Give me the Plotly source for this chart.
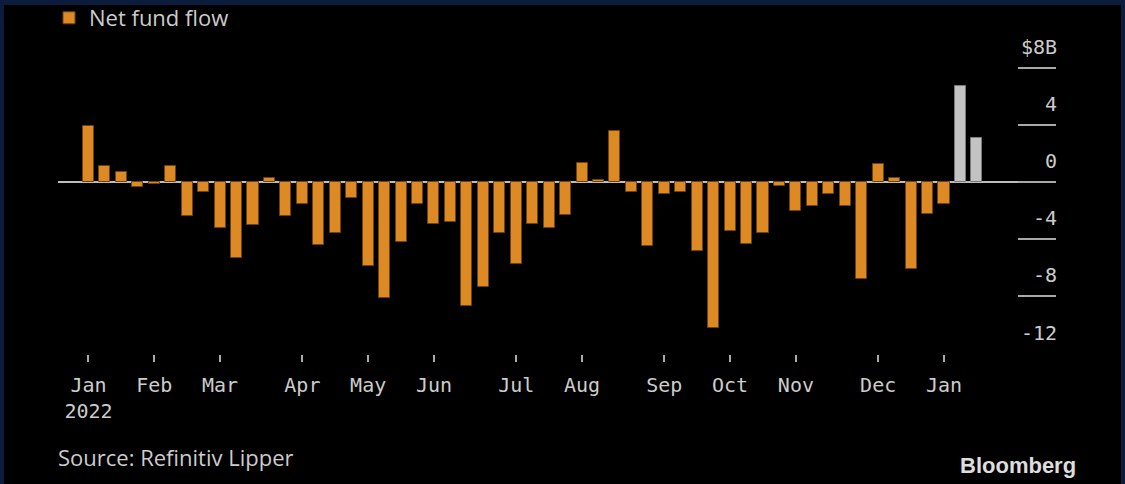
import plotly.graph_objects as go
import pandas as pd

# ---- data (weekly net fund flow, $ billions) ----
week_ending = [
    "2022-01-05", "2022-01-12", "2022-01-19", "2022-01-26",
    "2022-02-02", "2022-02-09", "2022-02-16", "2022-02-23",
    "2022-03-02", "2022-03-09", "2022-03-16", "2022-03-23", "2022-03-30",
    "2022-04-06", "2022-04-13", "2022-04-20", "2022-04-27",
    "2022-05-04", "2022-05-11", "2022-05-18", "2022-05-25",
    "2022-06-01", "2022-06-08", "2022-06-15", "2022-06-22", "2022-06-29",
    "2022-07-06", "2022-07-13", "2022-07-20", "2022-07-27",
    "2022-08-03", "2022-08-10", "2022-08-17", "2022-08-24", "2022-08-31",
    "2022-09-07", "2022-09-14", "2022-09-21", "2022-09-28",
    "2022-10-05", "2022-10-12", "2022-10-19", "2022-10-26",
    "2022-11-02", "2022-11-09", "2022-11-16", "2022-11-23", "2022-11-30",
    "2022-12-07", "2022-12-14", "2022-12-21", "2022-12-28",
    "2023-01-04", "2023-01-11", "2023-01-18",
]
net_flow = [
    3.9, 1.1, 0.7, -0.35,
    -0.1, 1.1, -2.4, -0.7,
    -3.2, -5.3, -3.0, 0.3, -2.4,
    -1.55, -4.4, -3.55, -1.1,
    -5.9, -8.1, -4.2, -1.55,
    -2.9, -2.8, -8.65, -7.35, -3.55,
    -5.7, -2.9, -3.2, -2.3,
    1.35, 0.15, 3.55, -0.7, -4.5,
    -0.8, -0.7, -4.85, -10.2,
    -3.4, -4.3, -3.55, -0.25,
    -2.0, -1.65, -0.8, -1.65, -6.8,
    1.25, 0.3, -6.05, -2.25,
    -1.55, 6.7, 3.1,
]
latest_weeks = ["2023-01-11", "2023-01-18"]   # shown in grey

month_ticks = [
    "2022-01-05", "2022-02-02", "2022-03-02", "2022-04-06", "2022-05-04",
    "2022-06-01", "2022-07-06", "2022-08-03", "2022-09-07", "2022-10-05",
    "2022-11-02", "2022-12-07", "2023-01-04",
]
month_labels = ["Jan<br>2022", "Feb", "Mar", "Apr", "May", "Jun", "Jul",
                "Aug", "Sep", "Oct", "Nov", "Dec", "Jan"]

y_ticks = [-12, -8, -4, 0, 4, 8]
y_tick_labels = ["-12", "-8", "-4", "0", "4", "$8B"]

# ---- styling ----
ORANGE = "#DD8A25"
ORANGE_EDGE = "#6E4310"
GREY = "#C3C3C3"
GREY_EDGE = "#7A7A7A"
TEXT = "#CCCCCC"
NAVY = "#0B1C3D"
W, H = 1125, 484
L, R, T, B = 58, 1056, 31, 354  # plot area in pixels
Y_MIN, Y_MAX = -12.03, 10.57

def px_x(px):
    return (px - L) / (R - L)

def px_y(py):
    return (B - py) / (B - T)

colors = [GREY if d in latest_weeks else ORANGE for d in week_ending]
edges = [GREY_EDGE if d in latest_weeks else ORANGE_EDGE for d in week_ending]
day_ms = 86400000

fig = go.Figure()
fig.add_trace(go.Bar(
    x=pd.to_datetime(week_ending),
    y=net_flow,
    name="Net fund flow",
    width=4.7 * day_ms,
    marker=dict(color=colors, line=dict(color=edges, width=1)),
    showlegend=True,
))

fig.update_layout(
    width=W, height=H,
    margin=dict(l=L, r=W - R, t=T, b=H - B, pad=0, autoexpand=False),
    paper_bgcolor="#000000",
    plot_bgcolor="#000000",
    bargap=0,
    font=dict(family="DejaVu Sans Mono", size=20, color=TEXT),
    showlegend=True,
    legend=dict(
        x=px_x(49), y=px_y(-3), xanchor="left", yanchor="top",
        orientation="h", bgcolor="rgba(0,0,0,0)",
        font=dict(family="Open Sans", size=22, color=TEXT),
    ),
    xaxis=dict(
        type="date",
        range=["2021-12-23 00:40", "2023-02-20 16:00"],
        tickmode="array", tickvals=pd.to_datetime(month_ticks), ticktext=month_labels,
        ticks="outside", ticklen=7, tickwidth=1.5, tickcolor="#AAAAAA",
        ticklabelstandoff=6,
        showgrid=False, zeroline=False, showline=False,
        tickfont=dict(family="DejaVu Sans Mono", size=20, color=TEXT),
    ),
    yaxis=dict(
        side="right",
        range=[Y_MIN, Y_MAX],
        tickmode="array", tickvals=y_ticks, ticktext=y_tick_labels,
        ticks="inside", ticklen=38, tickwidth=2, tickcolor="#A8A8A8",
        ticklabelposition="inside", ticklabelshift=-21, ticklabelstandoff=-38,
        showgrid=False, showline=False,
        zeroline=True, zerolinecolor="#BDBDBD", zerolinewidth=2,
        tickfont=dict(family="DejaVu Sans Mono", size=20, color=TEXT),
    ),
    shapes=[
        dict(type="rect", xref="paper", yref="paper",
             x0=px_x(0), x1=px_x(W), y0=px_y(5), y1=px_y(0),
             fillcolor=NAVY, line=dict(width=0), layer="above"),
        dict(type="rect", xref="paper", yref="paper",
             x0=px_x(0), x1=px_x(4), y0=px_y(H), y1=px_y(0),
             fillcolor=NAVY, line=dict(width=0), layer="above"),
        dict(type="rect", xref="paper", yref="paper",
             x0=px_x(W - 4), x1=px_x(W), y0=px_y(H), y1=px_y(0),
             fillcolor=NAVY, line=dict(width=0), layer="above"),
    ],
    annotations=[
        dict(text="Source: Refinitiv Lipper", xref="paper", yref="paper",
             x=px_x(56), y=px_y(457), xanchor="left", yanchor="middle",
             showarrow=False, font=dict(family="Open Sans", size=22, color=TEXT)),
        dict(text="<b>Bloomberg</b>", xref="paper", yref="paper",
             x=px_x(1078), y=px_y(465), xanchor="right", yanchor="middle",
             showarrow=False, font=dict(family="Liberation Sans", size=22, color="#DDDDDD")),
    ],
)

fig.write_html("out.html", config={"displayModeBar": False},
               post_script="document.body.style.margin='0';")
